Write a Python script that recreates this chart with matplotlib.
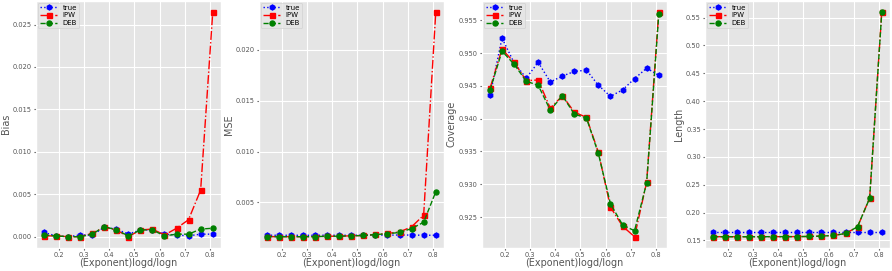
import numpy as np
import matplotlib
matplotlib.use('Agg')
import matplotlib.pyplot as plt

plt.style.use('ggplot')

# x: exponent logd/logn
x = [0.143, 0.190, 0.238, 0.286, 0.333, 0.381, 0.429, 0.476,
     0.524, 0.571, 0.619, 0.667, 0.714, 0.762, 0.810]

bias_true = [0.0005, 0.0001, 0.0000, 0.0002, 0.0002, 0.0011, 0.0009, 0.0003,
             0.0008, 0.0008, 0.0003, 0.0002, 0.0001, 0.0003, 0.0003]
bias_ipw = [0.0001, 0.0001, 0.0000, 0.0000, 0.0004, 0.0011, 0.0008, 0.0000,
            0.0008, 0.0009, 0.0002, 0.0010, 0.0020, 0.0055, 0.0265]
bias_deb = [0.0002, 0.0001, 0.0000, 0.0000, 0.0003, 0.0012, 0.0008, 0.0001,
            0.0008, 0.0008, 0.0001, 0.0003, 0.0003, 0.0009, 0.0010]

mse_true = [0.00178, 0.00177, 0.00177, 0.00177, 0.00177, 0.00178, 0.00177, 0.00178,
            0.00178, 0.00180, 0.00178, 0.00180, 0.00179, 0.00178, 0.00177]
mse_ipw = [0.00165, 0.00163, 0.00164, 0.00163, 0.00164, 0.00168, 0.00168, 0.00172,
           0.00175, 0.00185, 0.00195, 0.00210, 0.00260, 0.00374, 0.02375]
mse_deb = [0.00165, 0.00163, 0.00164, 0.00163, 0.00164, 0.00168, 0.00168, 0.00172,
           0.00175, 0.00184, 0.00192, 0.00205, 0.00243, 0.00305, 0.00605]

cov_true = [0.9436, 0.9523, 0.9485, 0.9462, 0.9486, 0.9456, 0.9465, 0.9472,
            0.9474, 0.9451, 0.9434, 0.9444, 0.9461, 0.9477, 0.9466]
cov_ipw = [0.9447, 0.9506, 0.9486, 0.9458, 0.9459, 0.9416, 0.9435, 0.9410,
           0.9402, 0.9349, 0.9265, 0.9236, 0.9220, 0.9303, 0.9563]
cov_deb = [0.9444, 0.9503, 0.9483, 0.9457, 0.9451, 0.9413, 0.9435, 0.9407,
           0.9401, 0.9347, 0.9270, 0.9238, 0.9229, 0.9302, 0.9559]

len_true = [0.1645] * 15
len_ipw = [0.1568, 0.1567, 0.1567, 0.1567, 0.1567, 0.1568, 0.1568, 0.1569,
           0.1572, 0.1578, 0.1590, 0.1625, 0.1745, 0.2260, 0.5605]
len_deb = [0.1568, 0.1567, 0.1567, 0.1567, 0.1567, 0.1568, 0.1568, 0.1569,
           0.1572, 0.1578, 0.1590, 0.1625, 0.1745, 0.2258, 0.5600]

panels = [
    ('Bias', bias_true, bias_ipw, bias_deb),
    ('MSE', mse_true, mse_ipw, mse_deb),
    ('Coverage', cov_true, cov_ipw, cov_deb),
    ('Length', len_true, len_ipw, len_deb),
]

fig = plt.figure(figsize=(8.92, 2.71), dpi=100)
lefts = [0.040, 0.290, 0.540, 0.790]

for left, (name, yt, yi, yd) in zip(lefts, panels):
    ax = fig.add_axes([left, 0.085, 0.208, 0.913])
    ax.plot(x, yt, 'b:h', ms=3.6, lw=1, label='true')
    ax.plot(x, yi, 'rs-.', ms=3.6, lw=1, label='IPW')
    ax.plot(x, yd, 'go--', ms=3.6, lw=1, label='DEB')
    ax.set_xticks([0.2, 0.3, 0.4, 0.5, 0.6, 0.7, 0.8])
    ax.tick_params(labelsize=4.8, length=1.5, pad=1.2)
    ax.set_xlabel('(Exponent)logd/logn', fontsize=6.9, labelpad=0.5)
    ax.set_ylabel(name, fontsize=6.9, labelpad=1.5)
    ax.legend(loc='upper left', fontsize=5, handlelength=2.5,
              borderaxespad=0.3, labelspacing=0.25, borderpad=0.3)

fig.savefig('out.png', dpi=100)
